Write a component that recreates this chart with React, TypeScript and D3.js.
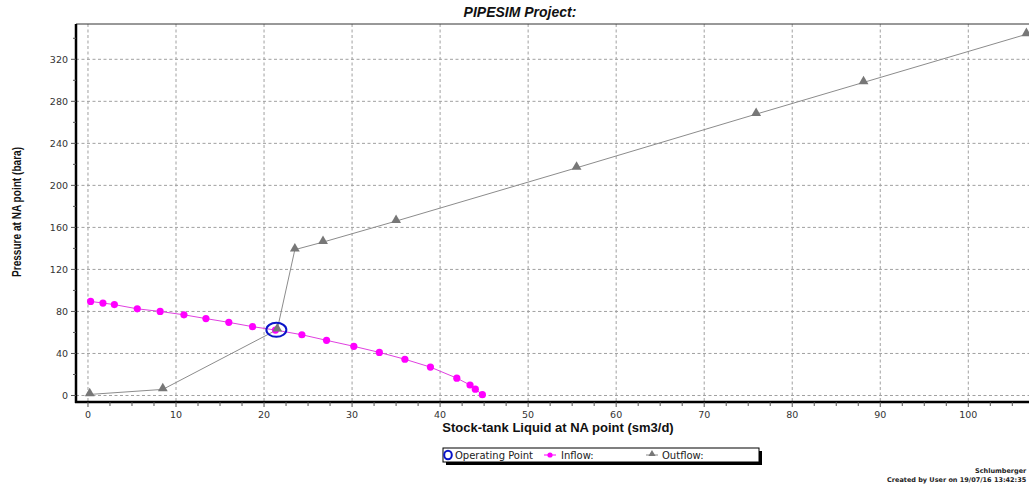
import React from "react";
import * as d3 from "d3";

// values
const inflowX = [0.3, 1.7, 3.0, 5.6, 8.2, 10.9, 13.4, 16.0, 18.7, 21.3, 24.3, 27.1, 30.2, 33.1, 36.0, 38.9, 41.9, 43.4, 44.0, 44.8];
const inflowY = [89.5, 88, 86.5, 82.5, 80, 76.8, 73.2, 69.6, 65.5, 62.3, 57.8, 52.5, 46.8, 41, 34.5, 27, 16.5, 10, 6, 0.8];
const outflowX = [0.2, 8.5, 21.5, 23.5, 26.7, 35.0, 55.5, 75.9, 88.1, 106.6];
const outflowY = [1, 5.8, 62.7, 138.8, 146, 166, 216.7, 267.8, 298, 343.8];
const opPoint = { x: 21.4, y: 62.5 };
const xTicks = [0, 10, 20, 30, 40, 50, 60, 70, 80, 90, 100];
const yTicks = [0, 40, 80, 120, 160, 200, 240, 280, 320];

const W = 1029;
const H = 487;
const left = 76;
const right = 1033;
const top = 24;
const bottom = 402;

const App = () => {
  const x = d3.scaleLinear().domain([-1.36, 107.35]).range([left, right]);
  const y = d3.scaleLinear().domain([-6.2, 353.6]).range([bottom, top]);

  const xMinor = d3.range(0, 107.5, 2.5);
  const yMinor = d3.range(0, 353, 20);

  const inflow = inflowX.map((v, i) => [v, inflowY[i]] as [number, number]);
  const outflow = outflowX.map((v, i) => [v, outflowY[i]] as [number, number]);
  const line = d3
    .line<[number, number]>()
    .x((d) => x(d[0]))
    .y((d) => y(d[1]));
  const tri = d3.symbol().type(d3.symbolTriangle).size(42)();
  const font = "'DejaVu Sans', Verdana, sans-serif";

  return (
    <svg
      width={W}
      height={H}
      style={{ position: "absolute", left: 0, top: 0, background: "#fff" }}
      fontFamily={font}
    >
      <defs>
        <clipPath id="plot">
          <rect x={left} y={top} width={right - left} height={bottom - top} />
        </clipPath>
      </defs>

      <text x={520} y={17} textAnchor="middle" fontFamily="'Liberation Sans', Arial, sans-serif"
        fontWeight="bold" fontStyle="italic" fontSize={14} fill="#111">
        PIPESIM Project:
      </text>

      {/* grid */}
      <g stroke="#a0a0a0" strokeWidth={1} strokeDasharray="3,2.5">
        {xTicks.map((t) => (
          <line key={"gx" + t} x1={x(t)} x2={x(t)} y1={top} y2={bottom} />
        ))}
        {yTicks.map((t) => (
          <line key={"gy" + t} x1={left} x2={right} y1={y(t)} y2={y(t)} />
        ))}
      </g>

      <line x1={left} x2={right} y1={top} y2={top} stroke="#333" strokeWidth={1} />

      <g clipPath="url(#plot)">
        <path d={line(outflow) || ""} fill="none" stroke="#8c8c8c" strokeWidth={1} />
        <path d={line(inflow) || ""} fill="none" stroke="#e040e0" strokeWidth={1} />
        {inflow.map((d, i) => (
          <circle key={"i" + i} cx={x(d[0])} cy={y(d[1])} r={3.6} fill="#ff00ff" />
        ))}
        {outflow.map((d, i) => (
          <path key={"o" + i} d={tri || ""} transform={`translate(${x(d[0])},${y(d[1]) - 1})`} fill="#777" />
        ))}
        <ellipse cx={x(opPoint.x)} cy={y(opPoint.y)} rx={10} ry={7} fill="none" stroke="#0a14c8" strokeWidth={2} />
      </g>

      {/* axes */}
      <g stroke="#000">
        <line x1={left} x2={left} y1={top} y2={bottom + 1} strokeWidth={2.5} />
        <line x1={left - 1} x2={right} y1={bottom} y2={bottom} strokeWidth={2.5} />
        {xMinor.map((t) => (
          <line key={"xm" + t} x1={x(t)} x2={x(t)} y1={bottom} y2={bottom + (t % 10 === 0 ? 5 : 4)} strokeWidth={1} stroke="#555" />
        ))}
        {yMinor.map((t) => (
          <line key={"ym" + t} x1={left - (t % 40 === 0 ? 5 : 3)} x2={left} y1={y(t)} y2={y(t)} strokeWidth={1} stroke="#555" />
        ))}
      </g>
      <g fontSize={9.5} fill="#333">
        {xTicks.map((t) => (
          <text key={"xl" + t} x={x(t)} y={418} textAnchor="middle">{t}</text>
        ))}
        {yTicks.map((t) => (
          <text key={"yl" + t} x={68} y={y(t) + 3.5} textAnchor="end">{t}</text>
        ))}
      </g>

      <text x={558} y={432} textAnchor="middle" fontFamily="'Liberation Sans', Arial, sans-serif"
        fontWeight="bold" fontSize={13} fill="#111">
        Stock-tank Liquid at NA point (sm3/d)
      </text>
      <text transform="translate(21,212) rotate(-90)" textAnchor="middle"
        fontFamily="'Liberation Sans Narrow', 'Liberation Sans', Arial, sans-serif"
        fontWeight="bold" fontSize={12} fill="#111" textLength={130} lengthAdjust="spacingAndGlyphs">
        Pressure at NA point (bara)
      </text>

      {/* legend */}
      <rect x={446} y={451} width={316} height={14} fill="#000" />
      <rect x={443} y={448} width={316} height={14} fill="#fff" stroke="#000" strokeWidth={1} />
      <ellipse cx={448} cy={455} rx={3.8} ry={4.3} fill="none" stroke="#0a14c8" strokeWidth={2} />
      <g fontSize={10} fill="#222">
        <text x={455} y={458.8}>Operating Point</text>
        <text x={561} y={458.8}>Inflow:</text>
        <text x={662} y={458.8}>Outflow:</text>
      </g>
      <line x1={544} x2={556} y1={455} y2={455} stroke="#ff00ff" />
      <circle cx={550} cy={455} r={2.6} fill="#ff00ff" />
      <line x1={646} x2={658} y1={455} y2={455} stroke="#8c8c8c" />
      <path d={d3.symbol().type(d3.symbolTriangle).size(22)() || ""} transform="translate(652,454)" fill="#777" />

      <g fontSize={6.5} fontWeight="bold" fill="#222">
        <text x={975} y={473}>Schlumberger</text>
        <text x={887} y={482}>Created by User on 19/07/16 13:42:35</text>
      </g>
    </svg>
  );
};

export default App;
